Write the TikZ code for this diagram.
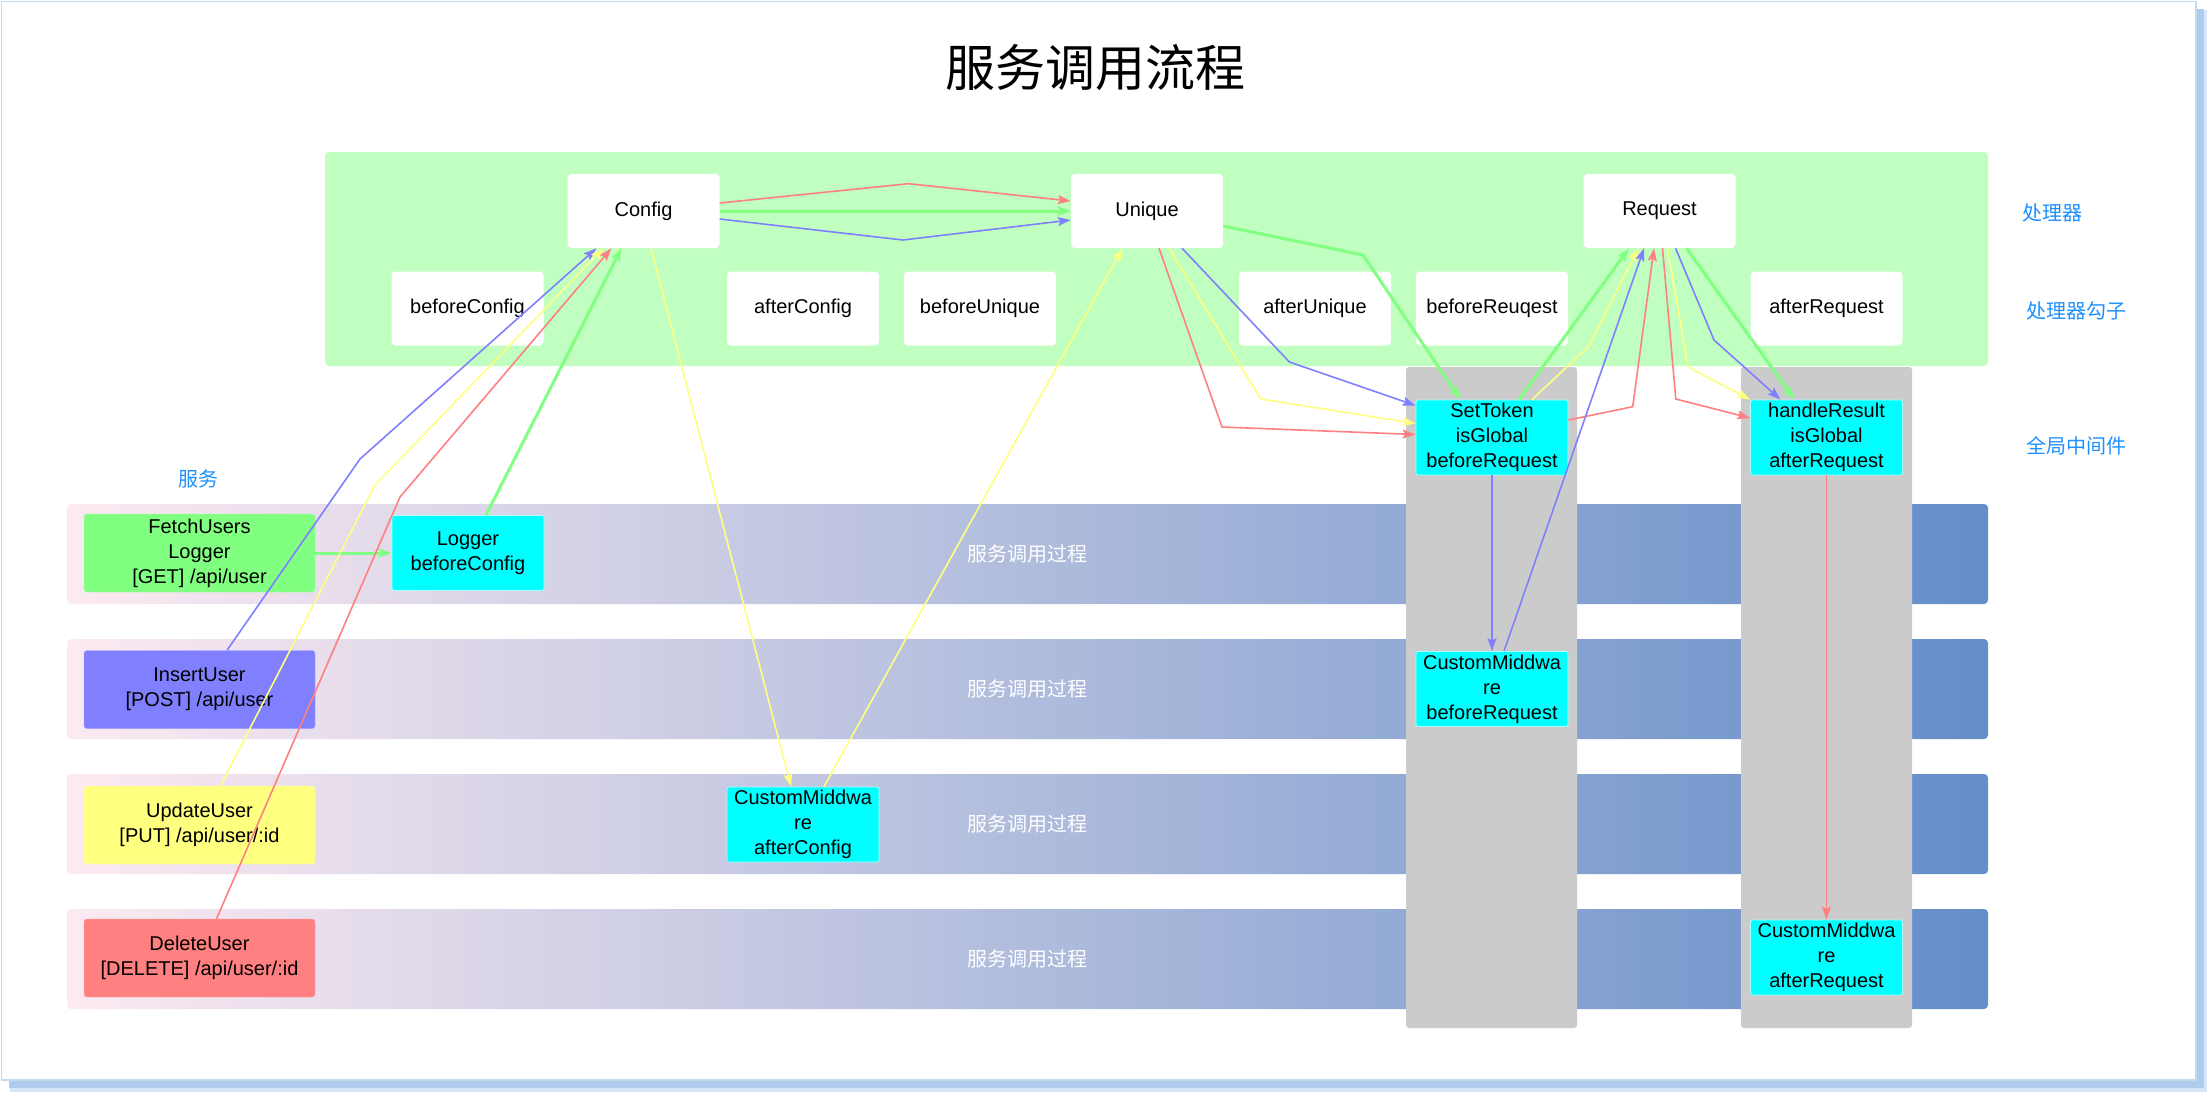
\documentclass[tikz,border=0pt]{standalone}
\usepackage{fontspec}
\setmainfont{Liberation Sans}
\newfontfamily\cjk{Noto Sans CJK SC}
\usetikzlibrary{arrows.meta,calc}
\definecolor{procgreen}{RGB}{192,255,192}
\definecolor{lred}{RGB}{255,128,128}
\definecolor{lgreen}{RGB}{128,255,128}
\definecolor{lblue}{RGB}{128,128,255}
\definecolor{lyellow}{RGB}{255,255,128}
\definecolor{aquafill}{RGB}{0,255,255}
\definecolor{aqualine}{RGB}{170,255,255}
\definecolor{bandL}{RGB}{252,234,241}
\definecolor{bandM}{RGB}{172,182,218}
\definecolor{bandR}{RGB}{100,142,200}
\definecolor{colgray}{RGB}{203,203,203}
\definecolor{lblcol}{RGB}{30,144,255}
\definecolor{frameline}{RGB}{192,220,235}
\definecolor{shadowcol}{RGB}{175,204,238}
\definecolor{shadowlt}{RGB}{215,230,248}
\begin{document}
\begin{tikzpicture}[x=1pt,y=-1pt,
  txt/.style={font=\fontsize{20}{25}\selectfont, align=center, inner sep=2pt},
  hookbox/.style={txt, fill=white, rounded corners=4pt, minimum width=152pt, minimum height=74pt},
  mwbox/.style={txt, fill=aquafill, draw=aqualine, line width=0.8pt, rounded corners=2pt, minimum width=152pt, minimum height=75pt},
  svcbox/.style={txt, rounded corners=3pt, minimum width=231pt, minimum height=78pt},
  cjklabel/.style={font=\cjk\fontsize{20}{24}\selectfont, text=lblcol},
  bandtext/.style={font=\cjk\fontsize{20}{24}\selectfont, text=white},
  tipstyle/.style={-{Stealth[length=13pt,width=9pt,inset=2.5pt]}},
  rarrow/.style={draw=lred, line width=1.6pt, tipstyle},
  yarrow/.style={draw=lyellow, line width=1.6pt, tipstyle},
  barrow/.style={draw=lblue, line width=1.6pt, tipstyle},
  garrow/.style={draw=lgreen, line width=3pt, tipstyle}
]
\useasboundingbox (0,0) rectangle (2208,1093);
% frame with shadow
\fill[shadowlt] (10,10) rectangle (2207,1092);
\fill[shadowcol] (9,9) rectangle (2204,1088);
\fill[white] (1.5,1.5) rectangle (2196,1080);
\draw[frameline, line width=1.5pt] (1.5,1.5) rectangle (2196,1080);

% title
\node[font=\cjk\fontsize{50}{60}\selectfont] (title) at (1095,68) {服务调用流程};

% processor area
\fill[procgreen, rounded corners=4pt] (325,152) rectangle (1988,366);

% bands
\foreach \ry in {554,689,824,959}{
  \shade[rounded corners=4pt, left color=bandL, middle color=bandM, right color=bandR] (67,\ry-50) rectangle (1988,\ry+50);
}
\foreach \ry/\nm in {554/b1,689/b2,824/b3,959/b4}{
  \node[bandtext] (\nm) at (1027,\ry) {服务调用过程};
}

% global middleware columns
\fill[colgray, rounded corners=3pt] (1406,367) rectangle (1577,1028);
\fill[colgray, rounded corners=3pt] (1741,367) rectangle (1912,1028);

% labels
\node[cjklabel] (lbl1) at (2052,213) {处理器};
\node[cjklabel] (lbl2) at (2076,311) {处理器勾子};
\node[cjklabel] (lbl3) at (2076,446) {全局中间件};
\node[cjklabel] (lbl4) at (198.5,479) {服务};

% processors and hooks
\node[hookbox] (Config) at (643.5,211) {Config};
\node[hookbox] (Unique) at (1147,211) {Unique};
\node[hookbox] (Request) at (1659.5,211) {Request};
\node[hookbox] (bConfig) at (467.5,308.5) {beforeConfig};
\node[hookbox] (aConfig) at (803,308.5) {afterConfig};
\node[hookbox] (bUnique) at (980,308.5) {beforeUnique};
\node[hookbox] (aUnique) at (1315,308.5) {afterUnique};
\node[hookbox] (bRequest) at (1492,308.5) {beforeReuqest};
\node[hookbox] (aRequest) at (1826.5,308.5) {afterRequest};

% middleware
\node[mwbox] (SetToken) at (1492,437.5) {SetToken\\isGlobal\\beforeRequest};
\node[mwbox] (handle) at (1826.5,437.5) {handleResult\\isGlobal\\afterRequest};
\node[mwbox] (cmBR) at (1492,689) {CustomMiddwa\\re\\beforeRequest};
\node[mwbox] (cmAR) at (1826.5,957.5) {CustomMiddwa\\re\\afterRequest};
\node[mwbox] (cmAC) at (803,824.5) {CustomMiddwa\\re\\afterConfig};
\node[mwbox] (logBC) at (468,553) {Logger\\beforeConfig};

% services
\node[svcbox, fill=lgreen, draw={rgb,255:red,160;green,255;blue,160}] (fetch) at (199.5,553) {FetchUsers\\Logger\\{[GET]} /api/user};
\node[svcbox, fill=lblue, draw={rgb,255:red,160;green,160;blue,255}] (insert) at (199.5,689.5) {InsertUser\\{[POST]} /api/user};
\node[svcbox, fill=lyellow, draw={rgb,255:red,255;green,255;blue,170}] (update) at (199.5,825) {UpdateUser\\{[PUT]} /api/user/:id};
\node[svcbox, fill=lred, draw={rgb,255:red,255;green,160;blue,160}] (delete) at (199.5,958) {DeleteUser\\{[DELETE]} /api/user/:id};

% connectors
\draw[garrow] (fetch.east) -- (logBC.west);
\draw[garrow] ([xshift=18pt]logBC.north) -- ([xshift=-22pt]Config.south);
\draw[barrow] ([xshift=27.5pt]insert.north) -- (360,459) -- ([xshift=-47pt]Config.south);
\draw[yarrow] ([xshift=21pt]update.north) -- (375,485) -- ([xshift=-40pt]Config.south);
\draw[rarrow] ([xshift=17pt]delete.north) -- (400,497) -- ([xshift=-32pt]Config.south);
\draw[yarrow] ([xshift=7.5pt]Config.south) -- ([xshift=-12pt]cmAC.north);
\draw[yarrow] ([xshift=21pt]cmAC.north) -- ([xshift=-24.5pt]Unique.south);
\draw[rarrow] ([yshift=8pt]Config.east) -- (908.5,183.7) -- ([yshift=10pt]Unique.west);
\draw[garrow] (Config.east) -- (Unique.west);
\draw[barrow] ([yshift=-8pt]Config.east) -- (903,240) -- ([yshift=-9pt]Unique.west);
\draw[garrow] ([yshift=-15pt]Unique.east) -- (1363,255) -- ([xshift=-31.5pt]SetToken.north);
\draw[rarrow] ([xshift=12pt]Unique.south) -- (1222,427) -- ([yshift=3pt]SetToken.west);
\draw[yarrow] ([xshift=22pt]Unique.south) -- (1260.7,399) -- ([yshift=14pt]SetToken.west);
\draw[barrow] ([xshift=35pt]Unique.south) -- (1289.4,362) -- ([yshift=32pt]SetToken.west);
\draw[garrow] ([xshift=27pt]SetToken.north) -- ([xshift=-30.5pt]Request.south);
\draw[yarrow] ([xshift=40pt]SetToken.north) -- (1589,346) -- ([xshift=-21pt]Request.south);
\draw[rarrow] ([yshift=17.5pt]SetToken.east) -- (1632.7,406.7) -- ([xshift=-5.5pt]Request.south);
\draw[barrow] ([xshift=12pt]cmBR.north) -- ([xshift=-15.5pt]Request.south);
\draw[barrow] (SetToken.south) -- (cmBR.north);
\draw[rarrow] ([xshift=3pt]Request.south) -- (1675.8,399) -- ([yshift=19.5pt]handle.west);
\draw[yarrow] ([xshift=8pt]Request.south) -- (1688,367) -- (handle.north west);
\draw[barrow] ([xshift=16pt]Request.south) -- (1714,340) -- ([xshift=-46pt]handle.north);
\draw[garrow] ([xshift=27pt]Request.south) -- ([xshift=-32pt]handle.north);
\draw[rarrow] (handle.south) -- (cmAR.north);
\end{tikzpicture}
\end{document}
